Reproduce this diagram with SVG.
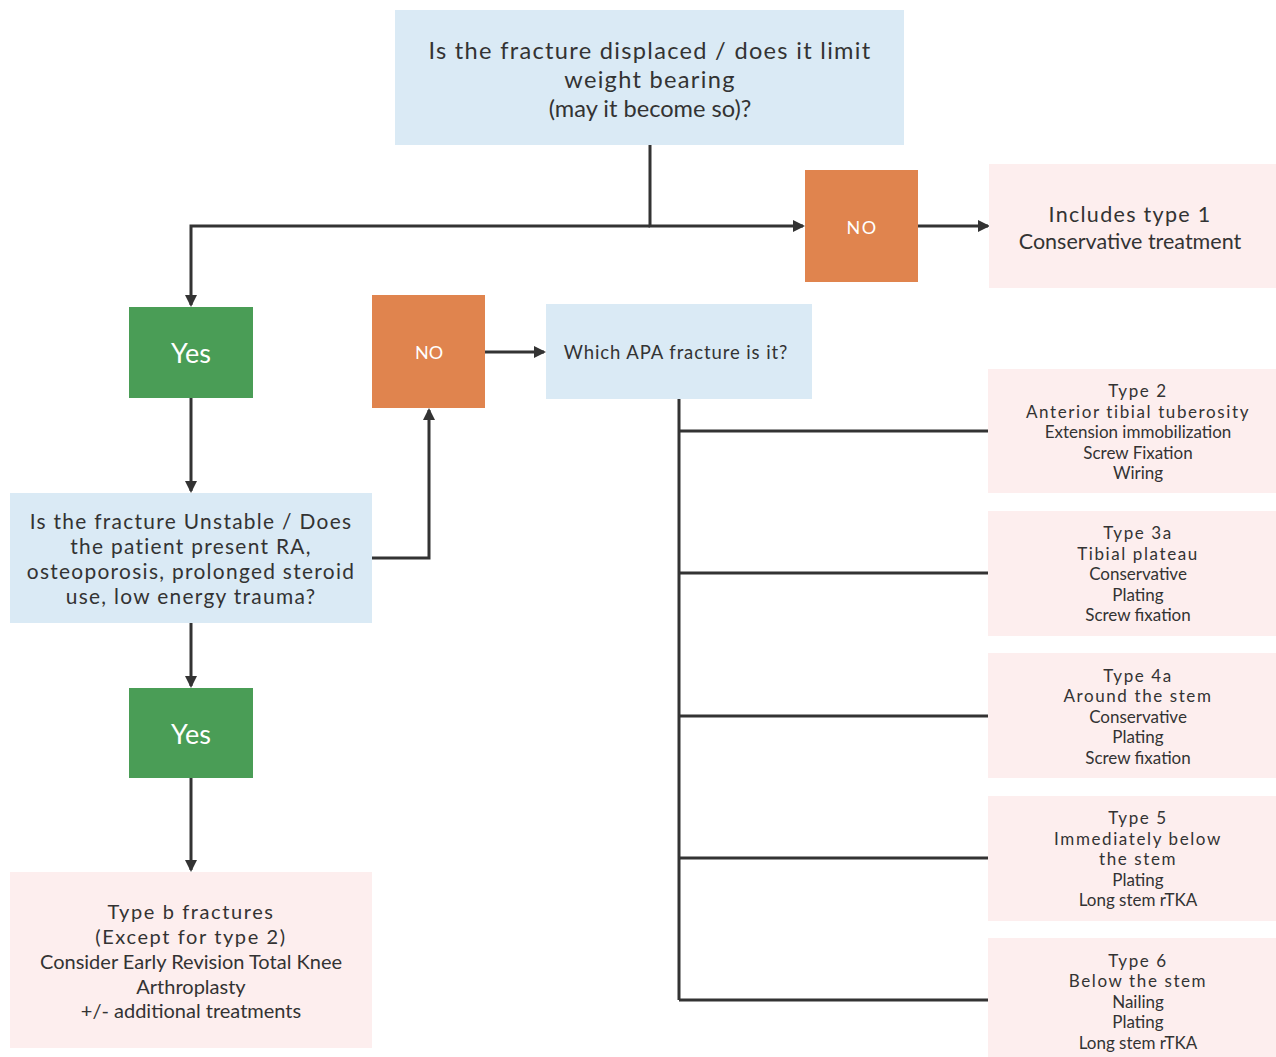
<svg xmlns="http://www.w3.org/2000/svg" width="1276" height="1057" viewBox="0 0 1276 1057">
<style>
text{font-family:Lato,"Open Sans","Liberation Sans",sans-serif;fill:#333;text-anchor:middle}
.q{fill:#daeaf5}
.r{fill:#fdeeee}
.n{fill:#e0844e}
.y{fill:#4a9d56}
.w{fill:#fff}
.sp{letter-spacing:1.3px}
.sp2{letter-spacing:1.6px}
.t23{font-size:23.6px}
.t21{font-size:21.5px}
.t20{font-size:20px}
.t17{font-size:17px}
.c{fill:none;stroke:#333;stroke-width:3}
</style>
<defs>
<marker id="ah" markerWidth="12" markerHeight="12" refX="10" refY="6" orient="auto" markerUnits="userSpaceOnUse" viewBox="0 0 12 12">
<path d="M0,0 L12,6 L0,12 z" fill="#333"/>
</marker>
</defs>
<g id="connectors">
<path class="c" d="M650,145 V226 H803" marker-end="url(#ah)"/>
<path class="c" d="M650,226 H191 V305" marker-end="url(#ah)"/>
<path class="c" d="M918,226 H988" marker-end="url(#ah)"/>
<path class="c" d="M191,398 V491" marker-end="url(#ah)"/>
<path class="c" d="M372,558 H429 V410" marker-end="url(#ah)"/>
<path class="c" d="M485,352 H544" marker-end="url(#ah)"/>
<path class="c" d="M191,623 V686" marker-end="url(#ah)"/>
<path class="c" d="M191,778 V870" marker-end="url(#ah)"/>
<path class="c" d="M679,399 V1000"/>
<path class="c" d="M679,431 H988 M679,573 H988 M679,716 H988 M679,858 H988 M679,1000 H988"/>
</g>
<g id="q1">
<rect class="q" x="395" y="10" width="509" height="135"/>
<text class="t23 sp" x="650" y="59">Is the fracture displaced / does it limit</text>
<text class="t23 sp" x="650" y="88">weight bearing</text>
<text class="t23" x="650" y="117">(may it become so)?</text>
</g>
<g id="no1">
<rect class="n" x="805" y="170" width="113" height="112"/>
<text class="w sp" x="862" y="234" font-size="18">NO</text>
</g>
<g id="type1">
<rect class="r" x="989" y="164" width="287" height="124"/>
<text class="t21 sp" x="1130" y="222">Includes type 1</text>
<text class="t21" x="1130" y="249">Conservative treatment</text>
</g>
<g id="yes1">
<rect class="y" x="129" y="307" width="124" height="91"/>
<text class="w" x="191" y="363" font-size="27">Yes</text>
</g>
<g id="no2">
<rect class="n" x="372" y="295" width="113" height="113"/>
<text class="w" x="429" y="359" font-size="18">NO</text>
</g>
<g id="which">
<rect class="q" x="546" y="304" width="266" height="95"/>
<text x="676" y="359" font-size="18.5" letter-spacing="0.9">Which APA fracture is it?</text>
</g>
<g id="q2">
<rect class="q" x="10" y="493" width="362" height="130"/>
<text class="sp" x="191" y="529" font-size="20.9">Is the fracture Unstable / Does</text>
<text class="sp" x="191" y="554" font-size="20.9">the patient present RA,</text>
<text class="sp" x="191" y="579" font-size="20.9">osteoporosis, prolonged steroid</text>
<text class="sp" x="191" y="604" font-size="20.9">use, low energy trauma?</text>
</g>
<g id="yes2">
<rect class="y" x="129" y="688" width="124" height="90"/>
<text class="w" x="191" y="744" font-size="27">Yes</text>
</g>
<g id="typeb">
<rect class="r" x="10" y="872" width="362" height="176"/>
<text class="t20 sp2" x="191" y="919">Type b fractures</text>
<text class="t20 sp2" x="191" y="944">(Except for type 2)</text>
<text class="t20" x="191" y="969">Consider Early Revision Total Knee</text>
<text class="t20" x="191" y="994">Arthroplasty</text>
<text class="t20" x="191" y="1018">+/- additional treatments</text>
</g>
<g id="type2">
<rect class="r" x="988" y="369" width="288" height="124"/>
<text class="t17 sp2" x="1138" y="397">Type 2</text>
<text class="t17 sp2" x="1138" y="418">Anterior tibial tuberosity</text>
<text class="t17" x="1138" y="438">Extension immobilization</text>
<text class="t17" x="1138" y="459">Screw Fixation</text>
<text class="t17" x="1138" y="479">Wiring</text>
</g>
<g id="type3a">
<rect class="r" x="988" y="511" width="288" height="125"/>
<text class="t17 sp2" x="1138" y="539">Type 3a</text>
<text class="t17 sp2" x="1138" y="560">Tibial plateau</text>
<text class="t17" x="1138" y="580">Conservative</text>
<text class="t17" x="1138" y="601">Plating</text>
<text class="t17" x="1138" y="621">Screw fixation</text>
</g>
<g id="type4a">
<rect class="r" x="988" y="653" width="288" height="125"/>
<text class="t17 sp2" x="1138" y="682">Type 4a</text>
<text class="t17 sp2" x="1138" y="702">Around the stem</text>
<text class="t17" x="1138" y="723">Conservative</text>
<text class="t17" x="1138" y="743">Plating</text>
<text class="t17" x="1138" y="764">Screw fixation</text>
</g>
<g id="type5">
<rect class="r" x="988" y="796" width="288" height="125"/>
<text class="t17 sp2" x="1138" y="824">Type 5</text>
<text class="t17 sp2" x="1138" y="845">Immediately below</text>
<text class="t17 sp2" x="1138" y="865">the stem</text>
<text class="t17" x="1138" y="886">Plating</text>
<text class="t17" x="1138" y="906">Long stem rTKA</text>
</g>
<g id="type6">
<rect class="r" x="988" y="938" width="288" height="119"/>
<text class="t17 sp2" x="1138" y="967">Type 6</text>
<text class="t17 sp2" x="1138" y="987">Below the stem</text>
<text class="t17" x="1138" y="1008">Nailing</text>
<text class="t17" x="1138" y="1028">Plating</text>
<text class="t17" x="1138" y="1049">Long stem rTKA</text>
</g>
</svg>
